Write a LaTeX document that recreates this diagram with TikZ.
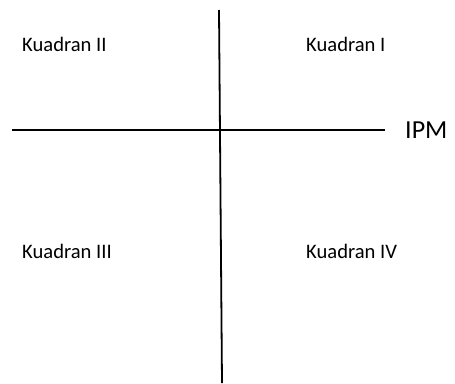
\documentclass[tikz,border=0pt]{standalone}
\usepackage{fontspec}
\setmainfont{Carlito}
\begin{document}
\begin{tikzpicture}[x=1pt,y=-1pt,
  axis/.style={line width=1.8pt,black},
  lbl/.style={anchor=base west,inner sep=0pt,font=\fontsize{20.6}{24}\selectfont},
  big/.style={anchor=base west,inner sep=0pt,font=\fontsize{26}{30}\selectfont}]
\useasboundingbox (0,0) rectangle (455,383);
\coordinate (vtop) at (219,10);
\coordinate (vbot) at (222,383);
\coordinate (hl) at (12,130);
\coordinate (hr) at (385,130);
\draw[axis] (vtop) -- (vbot);
\draw[axis] (hl) -- (hr);
\node[big] (ipm) at (405,138) {IPM};
\node[lbl] (k2) at (22,51) {Kuadran II};
\node[lbl] (k1) at (306,51) {Kuadran I};
\node[lbl] (k3) at (22,258) {Kuadran III};
\node[lbl] (k4) at (306,258) {Kuadran IV};
\end{tikzpicture}
\end{document}
